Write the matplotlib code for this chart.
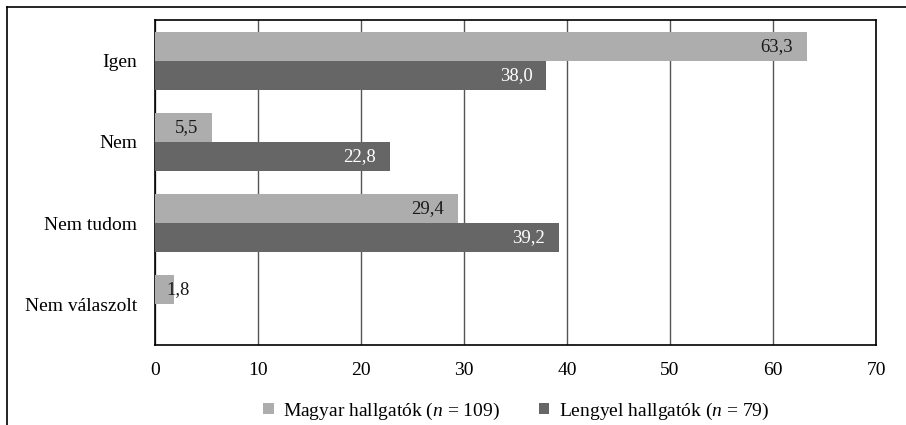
import matplotlib.pyplot as plt
import matplotlib.lines as mlines
import numpy as np

categories = ['Igen', 'Nem', 'Nem tudom', 'Nem válaszolt']
magyar = [63.3, 5.5, 29.4, 1.8]
lengyel = [38.0, 22.8, 39.2, 0.0]
series_labels = ['Magyar hallgatók ($n$ = 109)', 'Lengyel hallgatók ($n$ = 79)']

plt.rcParams['font.family'] = ['Liberation Serif', 'DejaVu Serif']
plt.rcParams['mathtext.fontset'] = 'custom'
plt.rcParams['mathtext.it'] = 'Liberation Serif:italic'
plt.rcParams['mathtext.rm'] = 'Liberation Serif'

fig = plt.figure(figsize=(9.06, 4.25), dpi=100)
ax = fig.add_axes([0.1711, 0.1882, 0.7958, 0.7647])

y = np.arange(len(categories))
h = 0.357
light, dark = '#adadad', '#666666'

b1 = ax.barh(y - h / 2, magyar, height=h, color=light, label=series_labels[0], zorder=3)
b2 = ax.barh(y + h / 2, lengyel, height=h, color=dark, label=series_labels[1], zorder=3)

def fmt(v):
    return f'{v:.1f}'.replace('.', ',')

for yi, v in zip(y - h / 2, magyar):
    if v > 4:
        ax.text(v - 1.35, yi, fmt(v), ha='right', va='center', fontsize=13.5, color='#1a1a1a', zorder=4)
    else:
        ax.text(1.15, yi, fmt(v), ha='left', va='center', fontsize=13.5, color='#1a1a1a', zorder=4)
for yi, v in zip(y + h / 2, lengyel):
    if v > 0:
        ax.text(v - 1.35, yi, fmt(v), ha='right', va='center', fontsize=13.5, color='white', zorder=4)

ax.set_xlim(0, 70)
ax.set_ylim(len(categories) - 0.5, -0.5)
ax.set_xticks(range(0, 71, 10))
ax.set_yticks(y)
ax.set_yticklabels(categories)
ax.tick_params(axis='both', length=0, labelsize=14)
ax.tick_params(axis='x', pad=12)
ax.tick_params(axis='y', pad=13)
ax.grid(axis='x', color='#555555', linewidth=1.0, zorder=0)
for s in ax.spines.values():
    s.set_color('black')
    s.set_linewidth(1.2)

fig.legend(handles=[b1, b2], loc='center', bbox_to_anchor=(0.570, 0.033), ncol=2,
           frameon=False, fontsize=14, handlelength=0.52, handleheight=0.52,
           handletextpad=0.5, columnspacing=2.0)

# outer frame (top and left edges)
fig.add_artist(mlines.Line2D([7 / 906, 1], [1 - 7 / 425, 1 - 7 / 425], color='black', linewidth=1.2))
fig.add_artist(mlines.Line2D([7 / 906, 7 / 906], [0, 1 - 7 / 425], color='black', linewidth=1.2))

fig.savefig('out.png', dpi=100)
